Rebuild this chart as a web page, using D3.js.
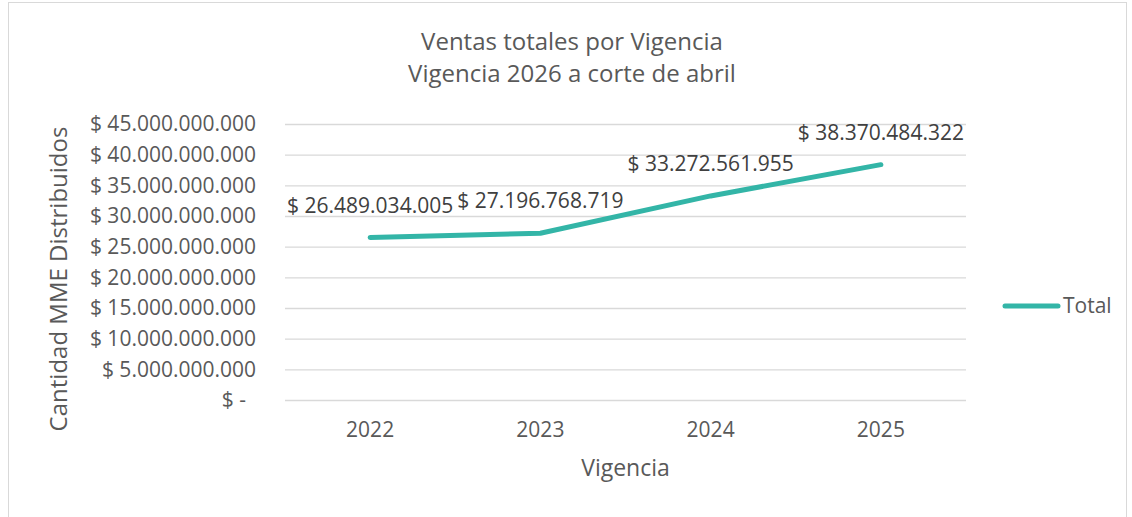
<!DOCTYPE html>
<html>
<head>
<meta charset="utf-8">
<script src="https://cdn.jsdelivr.net/npm/d3@7"></script>
<style>
  html, body { margin: 0; padding: 0; background: #ffffff; }
  svg { display: block; font-family: "Open Sans", "Noto Sans", sans-serif; }
</style>
</head>
<body>
<svg id="chart" width="1132" height="517"></svg>
<script>
// Ventas totales por vigencia (pesos)
const years = ["2022", "2023", "2024", "2025"];
const totals = [26489034005, 27196768719, 33272561955, 38370484322];
const totalLabels = ["$ 26.489.034.005", "$ 27.196.768.719", "$ 33.272.561.955", "$ 38.370.484.322"];
const yTickValues = [0, 5e9, 10e9, 15e9, 20e9, 25e9, 30e9, 35e9, 40e9, 45e9];
const yTickLabels = ["$ -", "$ 5.000.000.000", "$ 10.000.000.000", "$ 15.000.000.000",
  "$ 20.000.000.000", "$ 25.000.000.000", "$ 30.000.000.000", "$ 35.000.000.000",
  "$ 40.000.000.000", "$ 45.000.000.000"];
const titleLines = ["Ventas totales por Vigencia", "Vigencia 2026 a corte de abril"];
const seriesName = "Total";

const textColor = "#595959";
const gridColor = "#d9d9d9";
const lineColor = "#33b5a7";

const svg = d3.select("#chart");
const W = 1132, H = 517;
const plot = { left: 285, right: 966, top: 124, bottom: 400 };

// Outer frame
svg.append("rect")
  .attr("x", 8.5).attr("y", 2.5)
  .attr("width", W - 14).attr("height", H)
  .attr("fill", "#fff").attr("stroke", "#d9d9d9").attr("stroke-width", 1);

const x = d3.scaleBand().domain(years).range([plot.left, plot.right]);
const y = d3.scaleLinear().domain([0, 45e9]).range([plot.bottom, plot.top]);

// Horizontal gridlines + y tick labels
const yAxis = d3.axisLeft(y)
  .tickValues(yTickValues)
  .tickSize(-(plot.right - plot.left))
  .tickPadding(29)
  .tickFormat((d, i) => yTickLabels[i]);

const gy = svg.append("g")
  .attr("transform", `translate(${plot.left},0)`)
  .call(yAxis);
gy.select(".domain").remove();
gy.selectAll(".tick line").attr("stroke", gridColor).attr("stroke-width", 1.3);
gy.selectAll(".tick text")
  .attr("fill", textColor)
  .attr("font-size", 21)
  .attr("font-family", "Open Sans")
  .attr("dx", (d, i) => yTickLabels[i].endsWith("-") ? -10 : 0);

// X axis labels
const xAxis = d3.axisBottom(x).tickSize(0).tickPadding(22);
const gx = svg.append("g")
  .attr("transform", `translate(0,${plot.bottom})`)
  .call(xAxis);
gx.select(".domain").remove();
gx.selectAll(".tick text")
  .attr("fill", textColor)
  .attr("font-size", 21)
  .attr("font-family", "Open Sans");

// Series line
const pts = years.map((yr, i) => ({ yr, v: totals[i], label: totalLabels[i] }));
const line = d3.line()
  .x(d => x(d.yr) + x.bandwidth() / 2)
  .y(d => y(d.v));

svg.append("path")
  .datum(pts)
  .attr("d", line)
  .attr("fill", "none")
  .attr("stroke", lineColor)
  .attr("stroke-width", 5)
  .attr("stroke-linecap", "round")
  .attr("stroke-linejoin", "round");

// Data labels above each point
svg.append("g").selectAll("text")
  .data(pts)
  .join("text")
  .attr("x", d => x(d.yr) + x.bandwidth() / 2)
  .attr("y", d => y(d.v) - 25)
  .attr("text-anchor", "middle")
  .attr("fill", "#404040")
  .attr("font-size", 21)
  .text(d => d.label);

// Title
svg.append("g").selectAll("text")
  .data(titleLines)
  .join("text")
  .attr("x", 572)
  .attr("y", (d, i) => 50 + i * 32)
  .attr("text-anchor", "middle")
  .attr("fill", textColor)
  .attr("font-size", 24)
  .text(d => d);

// Axis titles
svg.append("text")
  .attr("transform", `translate(67,${(plot.top + plot.bottom) / 2 + 17}) rotate(-90)`)
  .attr("text-anchor", "middle")
  .attr("fill", textColor)
  .attr("font-size", 24)
  .text("Cantidad MME Distribuidos");

svg.append("text")
  .attr("x", (plot.left + plot.right) / 2)
  .attr("y", 476)
  .attr("text-anchor", "middle")
  .attr("fill", textColor)
  .attr("font-size", 23)
  .text("Vigencia");

// Legend
const lg = svg.append("g").attr("transform", "translate(1005,306)");
lg.append("line")
  .attr("x1", 0).attr("x2", 53).attr("y1", 0).attr("y2", 0)
  .attr("stroke", lineColor).attr("stroke-width", 5).attr("stroke-linecap", "round");
lg.append("text")
  .attr("x", 58).attr("y", 7)
  .attr("fill", textColor)
  .attr("font-size", 21)
  .text(seriesName);
</script>
</body>
</html>
